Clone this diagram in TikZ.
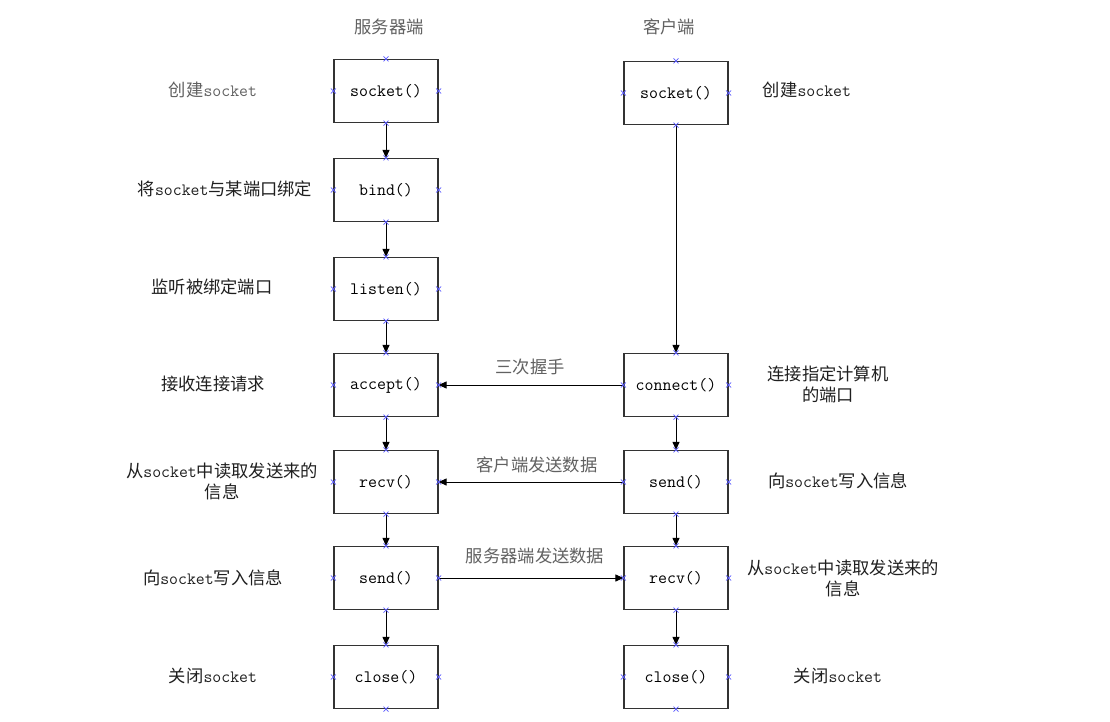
\documentclass[tikz,border=0pt]{standalone}
\usepackage{fontspec}
\newfontfamily\cjk{Noto Sans CJK SC}
\usetikzlibrary{arrows.meta}
\newcommand\zhtxt[1]{{\cjk #1}}
\begin{document}
\begin{tikzpicture}[x=1pt,y=-1pt,
  box/.style={draw=black!80, line width=1.2pt, minimum width=104pt, minimum height=63pt, inner sep=0pt, font=\fontsize{17.4}{20}\selectfont\ttfamily},
  lbl/.style={font=\fontsize{17.3}{21}\selectfont\ttfamily, align=center, text=black!88},
  glbl/.style={lbl, text=black!62},
  arr/.style={-{Triangle[length=8pt,width=7pt]}, line width=1pt},
  xmark/.style={draw=blue!65, line width=0.6pt},
]
\useasboundingbox (0,0) rectangle (1110,722);

% headers
\node[glbl] (hs) at (389,27) {\zhtxt{服务器端}};
\node[glbl] (hc) at (669,27) {\zhtxt{客户端}};

% server boxes
\node[box] (s1) at (386,91) {socket()};
\node[box] (s2) at (386,190) {bind()};
\node[box] (s3) at (386,289) {listen()};
\node[box] (s4) at (386,385) {accept()};
\node[box] (s5) at (386,482) {recv()};
\node[box] (s6) at (386,578) {send()};
\node[box] (s7) at (386,677) {close()};

% client boxes
\node[box] (c1) at (676,93) {socket()};
\node[box] (c2) at (676,385) {connect()};
\node[box] (c3) at (676,482) {send()};
\node[box] (c4) at (676,578) {recv()};
\node[box] (c5) at (676,677) {close()};

% vertical arrows
\draw[arr] (s1) -- (s2);
\draw[arr] (s2) -- (s3);
\draw[arr] (s3) -- (s4);
\draw[arr] (s4) -- (s5);
\draw[arr] (s5) -- (s6);
\draw[arr] (s6) -- (s7);
\draw[arr] (c1) -- (c2);
\draw[arr] (c2) -- (c3);
\draw[arr] (c3) -- (c4);
\draw[arr] (c4) -- (c5);

% horizontal arrows
\draw[arr] (c2) -- (s4);
\draw[arr] (c3) -- (s5);
\draw[arr] (s6) -- (c4);

% arrow labels
\node[glbl] (t1) at (530,367) {\zhtxt{三次握手}};
\node[glbl] (t2) at (537,465) {\zhtxt{客户端发送数据}};
\node[glbl] (t3) at (535,556) {\zhtxt{服务器端发送数据}};

% server side labels
\node[glbl] (l1) at (213,90) {\zhtxt{创建}socket};
\node[lbl] (l2) at (225,189) {\zhtxt{将}socket\zhtxt{与某端口绑定}};
\node[lbl] (l3) at (212,287) {\zhtxt{监听被绑定端口}};
\node[lbl] (l4) at (213,384) {\zhtxt{接收连接请求}};
\node[lbl] (l5) at (222,481) {\zhtxt{从}socket\zhtxt{中读取发送来的}\\\zhtxt{信息}};
\node[lbl] (l6) at (213,578) {\zhtxt{向}socket\zhtxt{写入信息}};
\node[lbl] (l7) at (213,676) {\zhtxt{关闭}socket};

% client side labels
\node[lbl] (r1) at (807,90) {\zhtxt{创建}socket};
\node[lbl] (r2) at (828,384) {\zhtxt{连接指定计算机}\\\zhtxt{的端口}};
\node[lbl] (r3) at (838,481) {\zhtxt{向}socket\zhtxt{写入信息}};
\node[lbl] (r4) at (843,578) {\zhtxt{从}socket\zhtxt{中读取发送来的}\\\zhtxt{信息}};
\node[lbl] (r5) at (838,676) {\zhtxt{关闭}socket};

% connection point marks
\foreach \n in {s1,s2,s3,s4,s5,s6,s7,c1,c2,c3,c4,c5}{
  \foreach \a in {north,south,east,west}{
    \draw[xmark] (\n.\a) ++(-2.5,-2.5) -- ++(5,5) ++(-5,0) -- ++(5,-5);
  }
}
\end{tikzpicture}
\end{document}
